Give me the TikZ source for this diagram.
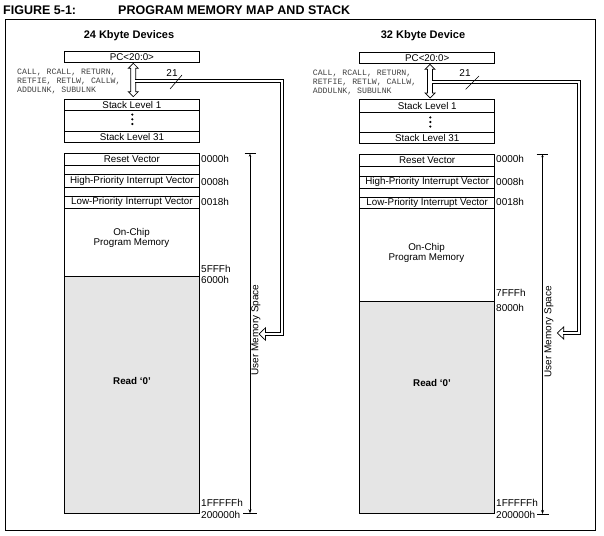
\documentclass[tikz,border=0pt]{standalone}
\usepackage{fontspec}
\setmainfont{Liberation Sans}
\setmonofont{Liberation Mono}
\usetikzlibrary{arrows.meta}
\begin{document}
\begin{tikzpicture}[x=1pt,y=-1pt,
  box/.style={draw, line width=0.8pt, minimum width=135pt, inner sep=0pt, anchor=north west, font=\fontsize{9.8}{11}\selectfont},
  addr/.style={anchor=west, inner sep=0pt, font=\fontsize{10}{12}\selectfont},
  head/.style={inner sep=0pt, font=\fontsize{11}{13}\selectfont\bfseries},
  ttl/.style={anchor=west, inner sep=0pt, font=\fontsize{12.5}{14}\selectfont\bfseries},
  instr/.style={anchor=north west, inner sep=0pt, align=left, text=black!75, font=\fontsize{8.2}{8.7}\selectfont\ttfamily},
  lbl/.style={inner sep=0pt, align=center, font=\fontsize{9.8}{10}\selectfont},
  dline/.style={double, double distance=2.8pt, line width=0.7pt},
  harrow/.style={draw, fill=white, line width=0.7pt, line join=miter},
  um/.style={line width=0.8pt, {Stealth[length=4pt,width=3pt]}-{Stealth[length=3pt,width=2.4pt]}},
  tick/.style={line width=0.8pt},
]
\useasboundingbox (0,0) rectangle (604,535);
% title and frame
\node[ttl] (fig) at (3,10) {FIGURE 5-1:};
\node[ttl] (figt) at (118,10) {PROGRAM MEMORY MAP AND STACK};
\draw[line width=0.9pt] (5.5,19.5) rectangle (595.3,530.5);

% ================= LEFT: 24 Kbyte Devices =================
\node[head] (hL) at (129,36) {24 Kbyte Devices};
\node[box, minimum height=11.6pt] (pcL) at (64,50.7) {PC<20:0>};
\node[box, minimum height=11pt] (s1L) at (64,99) {Stack Level 1};
\node[box, minimum height=20.7pt] (sdL) at (64,110) {};
\node[box, minimum height=11pt] (s31L) at (64,130.7) {Stack Level 31};
\fill (132.3,114.6) circle (1.2) (132.3,119.3) circle (1.2) (132.3,124) circle (1.2);
\node[instr] (insL) at (17,69.3) {CALL, RCALL, RETURN,\\RETFIE, RETLW, CALLW,\\ADDULNK, SUBULNK};

\node[box, minimum height=11.7pt] (rvL) at (64,153.3) {Reset Vector};
\node[box, minimum height=9.3pt] (e1L) at (64,165) {};
\node[box, minimum height=12.4pt] (hpL) at (64,174.3) {High-Priority Interrupt Vector};
\node[box, minimum height=9pt] (e2L) at (64,186.7) {};
\node[box, minimum height=12pt] (lpL) at (64,195.7) {Low-Priority Interrupt Vector};
\node[box, minimum height=68pt] (ocL) at (64,207.7) {};
\node[box, minimum height=237.3pt, fill=black!10] (rdL) at (64,275.7) {};
\node[lbl] (octL) at (131.5,238) {On-Chip\\Program Memory};
\node[lbl, font=\fontsize{9.8}{11}\selectfont\bfseries] (rdtL) at (132,380.7) {Read `0'};

\node[addr] (a0L) at (201,158.7) {0000h};
\node[addr] (a8L) at (201,181.7) {0008h};
\node[addr] (a18L) at (201,201.7) {0018h};
\node[addr] (a5L) at (201,268.7) {5FFFh};
\node[addr] (a6L) at (201,280.3) {6000h};
\node[addr] (a1fL) at (201,503) {1FFFFFh};
\node[addr] (a2L) at (201,515) {200000h};

% user memory space
\coordinate (umtL) at (250,153.7);
\coordinate (umbL) at (250,513.3);
\draw[um] (umbL) -- (umtL);
\draw[tick] (244.5,153.7) -- (256,153.7);
\draw[tick] (243,513.3) -- (257,513.3);
\node[inner sep=0pt, rotate=90, font=\fontsize{10}{12}\selectfont] (umL) at (256,330) {User Memory Space};

% PC <-> stack double arrow and bus
\draw[harrow] (133.3,63.3) -- (138.3,68.3) -- (135.8,68.3) -- (135.8,91.7) -- (138.3,91.7) -- (133.3,96.7)
  -- (128.3,91.7) -- (130.8,91.7) -- (130.8,68.3) -- (128.3,68.3) -- cycle;
\draw[harrow] (259,334) -- (265.5,327.8) -- (265.5,340.2) -- cycle;
\draw[dline] (135.3,81) -- (282,81) -- (282,334) -- (264.8,334);
\node[inner sep=0pt, font=\fontsize{10}{12}\selectfont] (n21L) at (172,73) {21};
\coordinate (slaL) at (170,89);
\coordinate (slbL) at (182,75);
\draw[line width=0.6pt] (slaL) -- (slbL);

% ================= RIGHT: 32 Kbyte Device =================
\node[head] (hR) at (423,36) {32 Kbyte Device};
\node[box, minimum height=11.6pt] (pcR) at (359.3,51.7) {PC<20:0>};
\node[box, minimum height=12.4pt] (s1R) at (359.3,99.3) {Stack Level 1};
\node[box, minimum height=20.6pt] (sdR) at (359.3,111.7) {};
\node[box, minimum height=11pt] (s31R) at (359.3,132.3) {Stack Level 31};
\fill (430.3,117.4) circle (1.2) (430.3,122) circle (1.2) (430.3,126.6) circle (1.2);
\node[instr] (insR) at (312.7,70) {CALL, RCALL, RETURN,\\RETFIE, RETLW, CALLW,\\ADDULNK, SUBULNK};

\node[box, minimum height=11.7pt] (rvR) at (359.3,154.3) {Reset Vector};
\node[box, minimum height=9.7pt] (e1R) at (359.3,166) {};
\node[box, minimum height=12pt] (hpR) at (359.3,175.7) {High-Priority Interrupt Vector};
\node[box, minimum height=9pt] (e2R) at (359.3,187.7) {};
\node[box, minimum height=11.6pt] (lpR) at (359.3,196.7) {Low-Priority Interrupt Vector};
\node[box, minimum height=92.4pt] (ocR) at (359.3,208.3) {};
\node[box, minimum height=212.3pt, fill=black!10] (rdR) at (359.3,300.7) {};
\node[lbl] (octR) at (426.5,252.7) {On-Chip\\Program Memory};
\node[lbl, font=\fontsize{9.8}{11}\selectfont\bfseries] (rdtR) at (432,383) {Read `0'};

\node[addr] (a0R) at (496,159.3) {0000h};
\node[addr] (a8R) at (496,181.7) {0008h};
\node[addr] (a18R) at (496,202.3) {0018h};
\node[addr] (a7R) at (496,293.3) {7FFFh};
\node[addr] (a8kR) at (496,308.3) {8000h};
\node[addr] (a1fR) at (496,503) {1FFFFFh};
\node[addr] (a2R) at (496,515) {200000h};

\coordinate (umtR) at (542.5,154.3);
\coordinate (umbR) at (542.5,514);
\draw[um] (umbR) -- (umtR);
\draw[tick] (536.7,154.3) -- (548.3,154.3);
\draw[tick] (537,514) -- (548.5,514);
\node[inner sep=0pt, rotate=90, font=\fontsize{10}{12}\selectfont] (umR) at (549,331.7) {User Memory Space};

\draw[harrow] (430,64.3) -- (435,69.3) -- (432.5,69.3) -- (432.5,93) -- (435,93) -- (430,98)
  -- (425,93) -- (427.5,93) -- (427.5,69.3) -- (425,69.3) -- cycle;
\draw[harrow] (557.3,333) -- (563.8,326.8) -- (563.8,339.2) -- cycle;
\draw[dline] (432,82) -- (579,82) -- (579,333) -- (563.1,333);
\node[inner sep=0pt, font=\fontsize{10}{12}\selectfont] (n21R) at (465,73) {21};
\coordinate (slaR) at (465.7,89.3);
\coordinate (slbR) at (479,76);
\draw[line width=0.6pt] (slaR) -- (slbR);
\end{tikzpicture}
\end{document}
